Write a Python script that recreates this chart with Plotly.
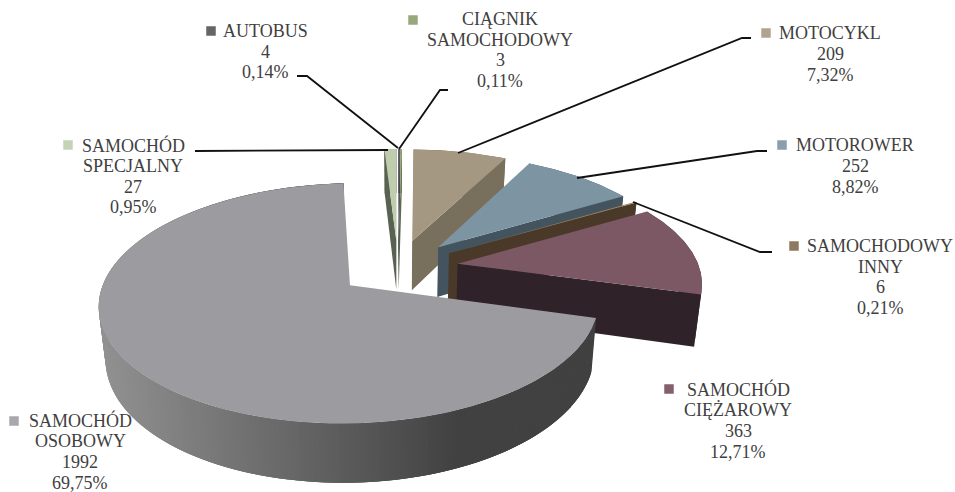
import math
import plotly.graph_objects as go

names = [["SAMOCHÓD", "SPECJALNY"], ["AUTOBUS"], ["CIĄGNIK", "SAMOCHODOWY"], ["MOTOCYKL"],
         ["MOTOROWER"], ["SAMOCHODOWY", "INNY"], ["SAMOCHÓD", "CIĘŻAROWY"], ["SAMOCHÓD", "OSOBOWY"]]
counts = [27, 4, 3, 209, 252, 6, 363, 1992]
percents = ["0,95%", "0,14%", "0,11%", "7,32%", "8,82%", "0,21%", "12,71%", "69,75%"]

top_colors = ["#BFCDAE", "#5F5F66", "#9AAA7E", "#A59883", "#7D95A3", "#A2865F", "#7C5865", "#9B9BA0"]
side_colors = ["#596150", "#3E3E44", "#5F6A4C", "#786F5D", "#43545F", "#4A3929", "#2F2228", "#505050"]
marker_colors = ["#C5D3B4", "#646469", "#97A87C", "#B0A491", "#8A9EAC", "#8E7860", "#84606E", "#A8A8AC"]

# layout of the labels (centre x, first row y, row step, marker x, marker y)
label_pos = [(133, 145, 20.8, 68, 145), (265, 31, 20.5, 211, 31), (500, 19, 20.6, 413, 20),
             (830, 33, 20.8, 766, 33), (855, 145, 20.8, 782, 145), (880, 246, 20.6, 794, 246),
             (738, 389, 21, 669, 389), (80, 420, 21, 14, 421)]
leaders = [([195, 388], [151, 150]), ([297, 307, 398], [76, 76, 148]), ([448, 440, 399], [90, 90, 149]),
           ([751, 742, 458], [38, 38, 153]), ([767, 757, 577], [151, 151, 178]),
           ([772, 760, 633], [252, 252, 202])]

START, EXPLODE = -3.4, 0.25
CX, CY, AX, BY, K = 398.0, 267.3, 241.5, 112.1, 0.1467
SX, DY, SY = 0.977, 50.6, 1.055


def top_pt(u, v):
    w = 1 + K * v
    return CX + AX * u / w, CY - BY * v / w


def bot_pt(p):
    return CX + (p[0] - CX) * SX, CY + DY + (p[1] - CY) * SY


fig = go.Figure()


def poly(pts, color):
    fig.add_trace(go.Scatter(x=[p[0] for p in pts] + [pts[0][0]], y=[p[1] for p in pts] + [pts[0][1]],
                             mode="lines", fill="toself", fillcolor=color,
                             line=dict(color=color, width=0), hoverinfo="skip", showlegend=False))


def shoelace(pts):
    return sum(pts[i][0] * pts[(i + 1) % len(pts)][1] - pts[(i + 1) % len(pts)][0] * pts[i][1]
               for i in range(len(pts)))


total = sum(counts)
angles = [START]
for c in counts:
    angles.append(angles[-1] + 360 * c / total)

for i in [2, 1, 0, 3, 4, 5, 6, 7]:
    a0, a1 = angles[i], angles[i + 1]
    mid = math.radians((a0 + a1) / 2)
    u0, v0 = EXPLODE * math.sin(mid), EXPLODE * math.cos(mid)
    n = max(3, int((a1 - a0) / 0.5))
    rim = []
    for j in range(n + 1):
        t = math.radians(a0 + (a1 - a0) * j / n)
        rim.append(top_pt(u0 + math.sin(t), v0 + math.cos(t)))
    apex = top_pt(u0, v0)

    # radial walls, only when they face the viewer
    wall0 = [apex, rim[0], bot_pt(rim[0]), bot_pt(apex)]
    wall1 = [apex, rim[-1], bot_pt(rim[-1]), bot_pt(apex)]
    if shoelace(wall0) < 0:
        poly(wall0, side_colors[i])
    if shoelace(wall1) > 0:
        poly(wall1, side_colors[i])

    # outer wall: shaded bands on the large slice, overlapping so that no seams show
    if i == 7:
        band, overlap = 2, 4
        for j in range(0, n, band):
            seg = rim[j:min(n, j + band + overlap) + 1]
            xm = (rim[j][0] + rim[min(n, j + band)][0]) / 2
            f = min(1, max(0, (xm - 105) / (460 - 105)))
            g = round(0x90 + (0x41 - 0x90) * f)
            poly(seg + [bot_pt(p) for p in reversed(seg)], f"rgb({g},{g},{g})")
    else:
        poly(rim + [bot_pt(p) for p in reversed(rim)], side_colors[i])

    # top face
    poly([apex] + rim, top_colors[i])

# leader lines
for lx, ly in leaders:
    fig.add_trace(go.Scatter(x=lx, y=ly, mode="lines", line=dict(color="#111111", width=1.8),
                             hoverinfo="skip", showlegend=False))

# legend keys
fig.add_trace(go.Scatter(x=[p[3] for p in label_pos], y=[p[4] for p in label_pos], mode="markers",
                         marker=dict(symbol="square", size=9.5, color=marker_colors, line=dict(width=0)),
                         hoverinfo="skip", showlegend=False))

# labels
for i, (cx, ry, step, _, _) in enumerate(label_pos):
    rows = names[i] + [str(counts[i]), percents[i]]
    for r, txt in enumerate(rows):
        fig.add_annotation(x=cx, y=ry + r * step, text=txt, showarrow=False, xanchor="center", yanchor="middle",
                           font=dict(family="Liberation Serif", size=18, color="#404040"))

fig.update_layout(width=955, height=492, margin=dict(l=0, r=0, t=0, b=0), paper_bgcolor="white",
                  plot_bgcolor="white", showlegend=False,
                  xaxis=dict(range=[0, 955], visible=False, fixedrange=True),
                  yaxis=dict(range=[492, 0], visible=False, fixedrange=True))
fig.write_html("out.html", config={"displayModeBar": False},
               post_script="document.body.style.margin='0';document.body.style.overflow='hidden';")
